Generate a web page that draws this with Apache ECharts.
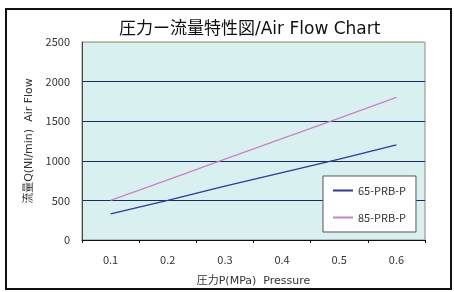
<!DOCTYPE html>
<html>
<head>
<meta charset="utf-8">
<script src="https://cdn.jsdelivr.net/npm/echarts@6/dist/echarts.min.js"></script>
<style>
  html, body { margin: 0; padding: 0; background: #fff; }
  #airFlowChart { width: 454px; height: 292px; }
</style>
</head>
<body>
<div id="airFlowChart"></div>
<script>
// 圧力(MPa)
const pressure = ['0.1', '0.2', '0.3', '0.4', '0.5', '0.6']
// 流量 Nl/min
const flow65 = [330, 500, 680, 850, 1020, 1200]
const flow85 = [500, 760, 1020, 1280, 1540, 1800]
const yTicks = [0, 500, 1000, 1500, 2000, 2500]

const fontCJK = '"Noto Sans CJK JP", "DejaVu Sans", sans-serif'
const fontWide = '"DejaVu Sans", "Noto Sans CJK JP", sans-serif'

const chart = echarts.init(document.getElementById('airFlowChart'))
chart.setOption({
  animation: false,
  backgroundColor: '#fff',
  textStyle: { fontFamily: fontCJK },
  title: {
    text: '圧力ー流量特性図/Air Flow Chart',
    left: 114,
    top: 16,
    textStyle: { fontSize: 17, fontWeight: 'normal', color: '#111', fontFamily: fontWide }
  },
  graphic: [
    {
      type: 'rect',
      shape: { x: 6, y: 9, width: 445, height: 280 },
      style: { fill: null, stroke: '#111', lineWidth: 2 },
      z: -1
    }
  ],
  grid: {
    left: 82,
    right: 29,
    top: 42,
    bottom: 51,
    show: true,
    backgroundColor: '#d8f0f0',
    borderColor: '#8a8a8a',
    borderWidth: 1
  },
  legend: {
    data: ['65-PRB-P', '85-PRB-P'],
    orient: 'vertical',
    left: 323,
    top: 176,
    width: 93,
    backgroundColor: '#fff',
    borderColor: '#555',
    borderWidth: 1,
    padding: [9, 10, 9, 10],
    itemGap: 16,
    itemWidth: 20,
    itemHeight: 2,
    icon: 'rect',
    textStyle: { fontSize: 11, color: '#333', fontFamily: fontCJK }
  },
  xAxis: {
    type: 'category',
    boundaryGap: true,
    data: pressure,
    name: '圧力P(MPa)  Pressure',
    nameLocation: 'middle',
    nameGap: 36,
    nameTextStyle: { fontSize: 11, color: '#333', fontFamily: fontWide },
    axisLine: { lineStyle: { color: '#111', width: 1 } },
    axisTick: { show: true, length: 3, lineStyle: { color: '#111' } },
    axisLabel: { margin: 14, fontSize: 11, color: '#333' }
  },
  yAxis: {
    type: 'value',
    min: yTicks[0],
    max: yTicks[yTicks.length - 1],
    interval: 500,
    name: '流量Q(Nl/min)  Air Flow',
    nameLocation: 'middle',
    nameRotate: 90,
    nameGap: 45,
    nameTextStyle: { fontSize: 11, color: '#333', fontFamily: fontWide },
    axisLine: { show: true, lineStyle: { color: '#444' } },
    axisTick: { show: false },
    axisLabel: { margin: 12, fontSize: 11, color: '#333', formatter: v => String(v) },
    splitLine: {
      show: true,
      lineStyle: {
        color: ['#111', '#1e2a66', '#1e2a66', '#1e2a66', '#1e2a66', '#b9b58a'],
        width: 1
      }
    }
  },
  series: [
    {
      name: '65-PRB-P',
      type: 'line',
      data: flow65,
      symbol: 'none',
      lineStyle: { color: '#2b3a9c', width: 1.3 },
      itemStyle: { color: '#2b3a9c' }
    },
    {
      name: '85-PRB-P',
      type: 'line',
      data: flow85,
      symbol: 'none',
      lineStyle: { color: '#cf7fc4', width: 1.3 },
      itemStyle: { color: '#cf7fc4' }
    }
  ]
})
</script>
</body>
</html>
